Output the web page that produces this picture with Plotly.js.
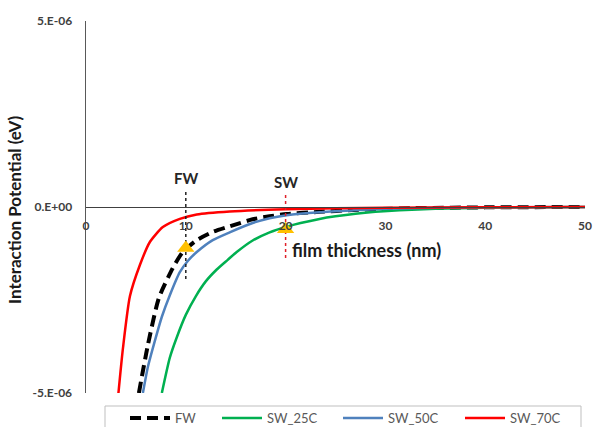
<!DOCTYPE html>
<html>
<head>
<meta charset="utf-8">
<script src="https://cdn.plot.ly/plotly-3.0.1.min.js"></script>
<style>
  html, body { margin: 0; padding: 0; background: #fff; }
  #chart { width: 595px; height: 427px; }
</style>
</head>
<body>
<div id="chart"></div>
<script>
// Interaction potential (eV) versus film thickness (nm); values in units of 1e-6 eV
const E = 1e-6;

const fwX = [5.3, 6.2, 7.3, 8.7, 9.7, 11.1, 12.7, 14.4, 16.7, 18.4, 20.1, 23.4, 26.8, 29.1, 33, 40, 50];
const fwY = [-5.0, -3.71, -2.45, -1.64, -1.21, -0.89, -0.67, -0.52, -0.33, -0.25, -0.19, -0.13, -0.08, -0.06, -0.03, -0.01, 0];

const sw25X = [7.6, 8.4, 9.1, 10.0, 11.0, 12.0, 13.1, 14.2, 15.1, 16.7, 18.4, 20.1, 21.5, 23.4, 25, 27, 29, 31.4, 35, 40, 45, 50];
const sw25Y = [-5.0, -4.05, -3.5, -2.9, -2.4, -2.0, -1.68, -1.42, -1.21, -0.90, -0.68, -0.53, -0.43, -0.32, -0.25, -0.18, -0.13, -0.09, -0.05, -0.02, -0.008, 0];

const sw50X = [5.7, 6.2, 6.9, 7.6, 8.4, 9.4, 10.2, 11.1, 12.7, 14.4, 16.7, 18.4, 20.1, 23.4, 26.8, 30, 35, 40, 50];
const sw50Y = [-5.0, -4.3, -3.6, -2.95, -2.37, -1.75, -1.45, -1.21, -0.89, -0.68, -0.43, -0.30, -0.22, -0.14, -0.09, -0.05, -0.02, -0.01, 0];

const sw70X = [3.25, 3.7, 4.4, 5.4, 6.4, 7.7, 9.4, 11.1, 14.4, 20, 25, 30, 40, 50];
const sw70Y = [-5.0, -3.8, -2.4, -1.56, -0.94, -0.54, -0.32, -0.2, -0.12, -0.06, -0.035, -0.02, -0.008, 0];

// marked thicknesses (FW at 10 nm, SW at 20 nm)
const markLabels = ['FW', 'SW'];
const markX = [10, 20];
const markY = [-1.1, -0.6];
const labelY = [0.78, 0.68];
const guideTop = [0.40, 0.32];
const guideBottom = [-1.96, -1.42];
const guideColors = ['#222222', '#E0202A'];

const xTicks = [0, 10, 20, 30, 40, 50];
const yTickVals = [-5, 0, 5];
const yTickText = ['-5.E-06', '0.E+00', '5.E-06'];

const scale = a => a.map(v => v * E);
const FONT = 'Lato, "Open Sans", sans-serif';

// plot area in pixels, used to place the legend row
const PLOT = { left: 86, right: 585, top: 21, bottom: 393 };
const px2fx = px => (px - PLOT.left) / (PLOT.right - PLOT.left);
const py2fy = py => (PLOT.bottom - py) / (PLOT.bottom - PLOT.top);

const traces = [
  { x: fwX, y: scale(fwY), name: 'FW', mode: 'lines', legend: 'legend',
    line: { color: '#000000', width: 4, dash: '11px,6px', shape: 'spline', smoothing: 0.6 } },
  { x: sw25X, y: scale(sw25Y), name: 'SW_25C', mode: 'lines', legend: 'legend2',
    line: { color: '#00B050', width: 2.5, shape: 'spline', smoothing: 0.6 } },
  { x: sw50X, y: scale(sw50Y), name: 'SW_50C', mode: 'lines', legend: 'legend3',
    line: { color: '#4F81BD', width: 2.5, shape: 'spline', smoothing: 0.6 } },
  { x: sw70X, y: scale(sw70Y), name: 'SW_70C', mode: 'lines', legend: 'legend4',
    line: { color: '#FF0000', width: 2.5, shape: 'spline', smoothing: 0.6 } }
];

// dotted guide lines at the marked thicknesses
markX.forEach((mx, i) => {
  traces.push({
    x: [mx, mx], y: [guideTop[i] * E, guideBottom[i] * E],
    mode: 'lines', showlegend: false, hoverinfo: 'skip',
    line: { color: guideColors[i], width: 1.5, dash: 'dot' }
  });
});

// triangle markers
traces.push({
  x: markX, y: scale(markY), mode: 'markers', showlegend: false,
  marker: { symbol: 'triangle-up', size: 15, color: '#FFC000' }
});

const tickFont = { family: FONT, size: 12, color: '#404040', weight: 'bold' };

const annotations = markLabels.map((t, i) => ({
  x: markX[i], y: labelY[i] * E, xref: 'x', yref: 'y',
  text: '<b>' + t + '</b>', showarrow: false,
  font: { family: FONT, size: 15, color: '#262626' }
}));

annotations.push({
  x: 28.15, y: -1.15 * E, xref: 'x', yref: 'y',
  text: '<b>film thickness (nm)</b>', showarrow: false,
  font: { family: FONT, size: 18, color: '#1a1a1a' }
});

annotations.push({
  xref: 'paper', yref: 'paper', x: px2fx(14), y: py2fy(210),
  xanchor: 'center', yanchor: 'middle',
  text: '<b>Interaction Potential (eV)</b>', showarrow: false, textangle: -90,
  font: { family: FONT, size: 17, color: '#1a1a1a' }
});

// one legend per entry so the row keeps its own spacing; a frame is drawn around the row
const legendStyle = x => ({
  orientation: 'h', x: px2fx(x), y: py2fy(403), xanchor: 'left', yanchor: 'top',
  borderwidth: 0, bgcolor: 'rgba(0,0,0,0)', itemwidth: 40,
  font: { family: FONT, size: 13, color: '#595959' }
});

const layout = {
  width: 595, height: 427,
  margin: { l: 86, r: 10, t: 21, b: 34, autoexpand: false },
  paper_bgcolor: '#ffffff', plot_bgcolor: '#ffffff',
  showlegend: true,
  xaxis: {
    range: [0, 50], anchor: 'free', position: 0.5,
    showline: true, linecolor: '#404040', linewidth: 1,
    showgrid: false, zeroline: false,
    tickvals: xTicks, ticks: '', ticklabelstandoff: 8,
    tickfont: tickFont, automargin: false
  },
  yaxis: {
    range: [-5 * E, 5 * E],
    showline: true, linecolor: '#595959', linewidth: 1.5,
    showgrid: false, zeroline: false,
    tickvals: scale(yTickVals), ticktext: yTickText,
    ticks: '', ticklabelstandoff: 10,
    tickfont: tickFont, automargin: false
  },
  legend: legendStyle(125),
  legend2: legendStyle(217),
  legend3: legendStyle(338),
  legend4: legendStyle(460),
  shapes: [{
    type: 'rect', xref: 'paper', yref: 'paper',
    x0: px2fx(105), x1: px2fx(581), y0: py2fy(406), y1: py2fy(440),
    line: { color: '#BFBFBF', width: 1 }, fillcolor: 'rgba(0,0,0,0)', layer: 'below'
  }],
  annotations: annotations
};

Plotly.newPlot('chart', traces, layout, { displayModeBar: false, staticPlot: true });
</script>
</body>
</html>
